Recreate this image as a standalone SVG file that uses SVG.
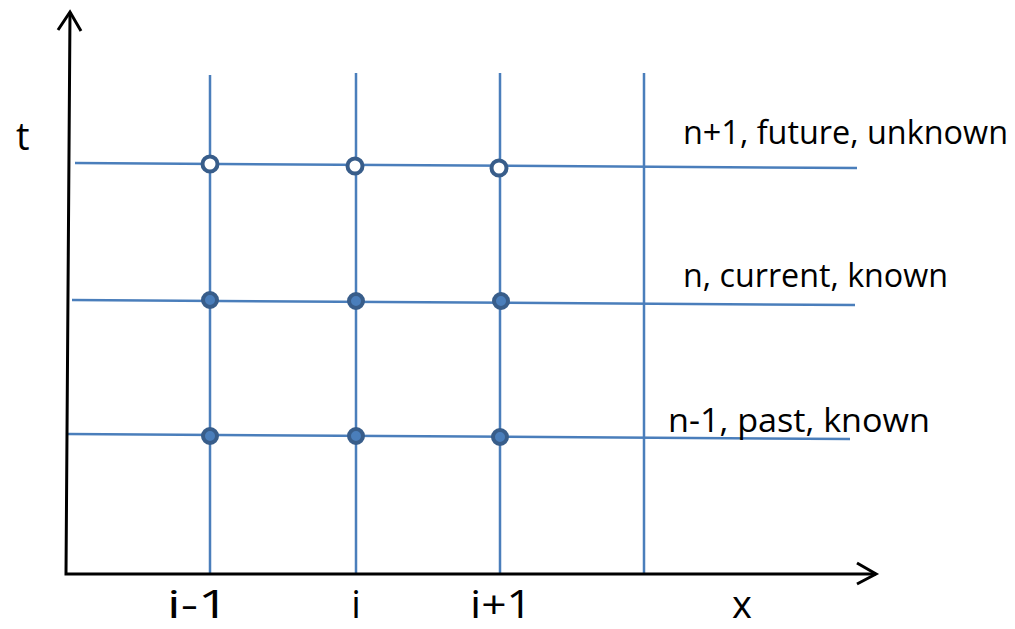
<svg xmlns="http://www.w3.org/2000/svg" width="1015" height="629" viewBox="0 0 1015 629">
<defs>
<style>
.axis{stroke:#000;stroke-width:3;fill:none}
.grid{stroke:#4a7ebb;stroke-width:2.5;fill:none}
.open{fill:#fff;stroke:#385d8a;stroke-width:4}
.full{fill:#4a7ebb;stroke:#385d8a;stroke-width:4}
.lbl{font-family:"Open Sans","Liberation Sans",sans-serif;fill:#000}
</style>
</defs>
<rect width="1015" height="629" fill="#fff"/>
<g id="connectors">
<line class="grid" x1="210" y1="75" x2="210" y2="574"/>
<line class="grid" x1="356" y1="73" x2="356" y2="574"/>
<line class="grid" x1="500" y1="73" x2="500" y2="574"/>
<line class="grid" x1="644" y1="73" x2="644" y2="574"/>
<line class="grid" x1="75" y1="163" x2="857" y2="168"/>
<line class="grid" x1="72" y1="300" x2="855" y2="305"/>
<line class="grid" x1="67" y1="434" x2="850" y2="439"/>
<polyline class="axis" points="70,12 66,574 876,574"/>
<polyline class="axis" points="58,30 70,12 81,31"/>
<polyline class="axis" points="857,563 876,574 857,584"/>
</g>
<g id="node-future">
<circle class="open" cx="210" cy="164" r="7.5"/>
<circle class="open" cx="355" cy="166" r="7.5"/>
<circle class="open" cx="499" cy="168" r="7.5"/>
</g>
<g id="node-current">
<circle class="full" cx="210" cy="300" r="7"/>
<circle class="full" cx="356" cy="301" r="7"/>
<circle class="full" cx="501" cy="301" r="7"/>
</g>
<g id="node-past">
<circle class="full" cx="210" cy="436" r="7"/>
<circle class="full" cx="356" cy="436" r="7"/>
<circle class="full" cx="500" cy="437" r="7"/>
</g>
<g id="labels">
<text class="lbl" x="16" y="150" font-size="38">t</text>
<text class="lbl" x="683" y="144" font-size="32" textLength="325" lengthAdjust="spacingAndGlyphs">n+1, future, unknown</text>
<text class="lbl" x="683" y="287" font-size="32" textLength="265" lengthAdjust="spacingAndGlyphs">n, current, known</text>
<text class="lbl" x="668" y="432" font-size="32" textLength="262" lengthAdjust="spacingAndGlyphs">n-1, past, known</text>
<text class="lbl" x="167" y="618" font-size="38" textLength="62" lengthAdjust="spacingAndGlyphs">i-1</text>
<text class="lbl" x="356" y="618" font-size="38" text-anchor="middle">i</text>
<text class="lbl" x="470" y="618" font-size="38" textLength="62" lengthAdjust="spacingAndGlyphs">i+1</text>
<text class="lbl" x="742" y="618" font-size="38" text-anchor="middle">x</text>
</g>
</svg>
